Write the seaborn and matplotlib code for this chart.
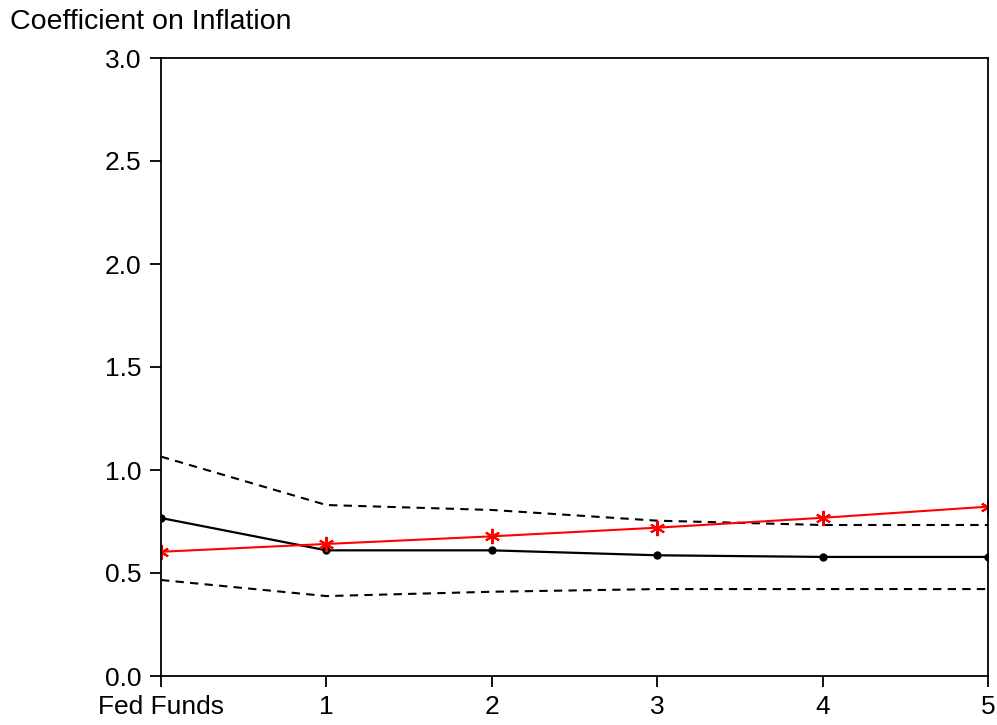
import matplotlib
matplotlib.use("Agg")
import matplotlib.pyplot as plt
import seaborn as sns
import pandas as pd

horizon = [0, 1, 2, 3, 4, 5]
x_labels = ["Fed Funds", "1", "2", "3", "4", "5"]
estimate = [0.767, 0.610, 0.610, 0.586, 0.578, 0.578]
upper_band = [1.065, 0.830, 0.806, 0.754, 0.733, 0.733]
lower_band = [0.466, 0.388, 0.409, 0.422, 0.422, 0.422]
policy = [0.603, 0.641, 0.678, 0.720, 0.768, 0.822]
y_ticks = [0.0, 0.5, 1.0, 1.5, 2.0, 2.5, 3.0]

sns.set_style("ticks")
plt.rcParams['font.family'] = ['Liberation Sans', 'DejaVu Sans']
plt.rcParams['text.color'] = 'black'

fig = plt.figure(figsize=(9.97, 7.25), dpi=100)
ax = fig.add_axes([161/997, 49/725, (988-161)/997, (676-58)/725])

df = pd.DataFrame({"h": horizon, "est": estimate, "up": upper_band,
                   "lo": lower_band, "pol": policy})

sns.lineplot(data=df, x="h", y="up", ax=ax, color="black", lw=1.5,
             linestyle=(0, (4, 3)))
sns.lineplot(data=df, x="h", y="lo", ax=ax, color="black", lw=1.5,
             linestyle=(0, (4, 3)))
sns.lineplot(data=df, x="h", y="est", ax=ax, color="black", lw=1.6,
             marker="o", markersize=6, markeredgewidth=0)
sns.lineplot(data=df, x="h", y="pol", ax=ax, color="red", lw=1.5,
             marker=(6, 2, 0), markersize=11, markeredgewidth=1.5,
             markeredgecolor="red")

ax.set_xlim(0, 5)
ax.set_ylim(0, 3.0)
ax.set_xticks(horizon)
ax.set_xticklabels(x_labels)
ax.set_yticks(y_ticks)
ax.set_yticklabels([f"{v:.1f}" for v in y_ticks])
ax.set_xlabel("")
ax.set_ylabel("")
for s in ax.spines.values():
    s.set_visible(True)
    s.set_color("black")
    s.set_linewidth(1.3)
ax.tick_params(axis="both", direction="out", length=8, width=1.3,
               labelsize=19, colors="black", pad=6)
fig.text(10/997, 1 - 22/725, "Coefficient on Inflation", fontsize=20.5,
         ha="left", va="center", color="black")

fig.savefig("out.png", dpi=100, facecolor="white")
